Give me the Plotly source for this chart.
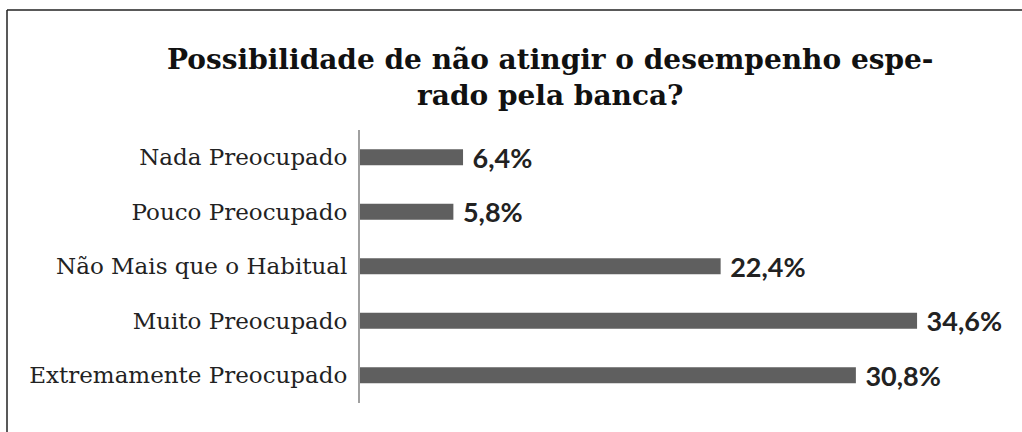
import plotly.graph_objects as go

categories = ["Nada Preocupado", "Pouco Preocupado", "Não Mais que o Habitual",
              "Muito Preocupado", "Extremamente Preocupado"]
values = [6.4, 5.8, 22.4, 34.6, 30.8]
title_text = "Possibilidade de não atingir o desempenho espe-<br>rado pela banca?"

W, H = 1022, 432
x0, x1 = 360, 1014
y_top, y_bot = 130, 402.5

fig = go.Figure(go.Bar(
    y=categories, x=values, orientation="h",
    marker=dict(color="#5f5f5f", line=dict(width=0)),
    width=0.29,
    texttemplate=" %{x:.1f}%", textposition="outside", constraintext="none",
    textfont=dict(family="Lato", size=27, color="#222222", weight="bold"),
    cliponaxis=False,
))

fig.update_layout(
    width=W, height=H, autosize=False,
    margin=dict(l=0, r=0, t=0, b=0),
    paper_bgcolor="white", plot_bgcolor="white",
    separators=",.",
    showlegend=False,
    xaxis=dict(domain=[x0 / W, x1 / W], range=[0, (x1 - x0) / 16.1],
               visible=False, fixedrange=True),
    yaxis=dict(domain=[(H - y_bot) / H, (H - y_top) / H],
               autorange="reversed", showline=True, linecolor="#a0a0a0", linewidth=2,
               showgrid=False, zeroline=False, ticks="", ticklabelstandoff=6,
               tickfont=dict(family="DejaVu Serif", size=23, color="#222222")),
    annotations=[dict(text="<b>" + title_text + "</b>", xref="paper", yref="paper",
                      x=550 / W, y=(H - 41) / H, xanchor="center", yanchor="top",
                      showarrow=False, align="center",
                      font=dict(family="DejaVu Serif", size=28, color="#111111"))],
    shapes=[
        dict(type="line", xref="paper", yref="paper", x0=7 / W, x1=7 / W,
             y0=0, y1=(H - 10) / H, line=dict(color="#222222", width=1.5)),
        dict(type="line", xref="paper", yref="paper", x0=7 / W, x1=1,
             y0=(H - 10) / H, y1=(H - 10) / H, line=dict(color="#222222", width=1.5)),
    ],
)

fig.write_html("out.html")
